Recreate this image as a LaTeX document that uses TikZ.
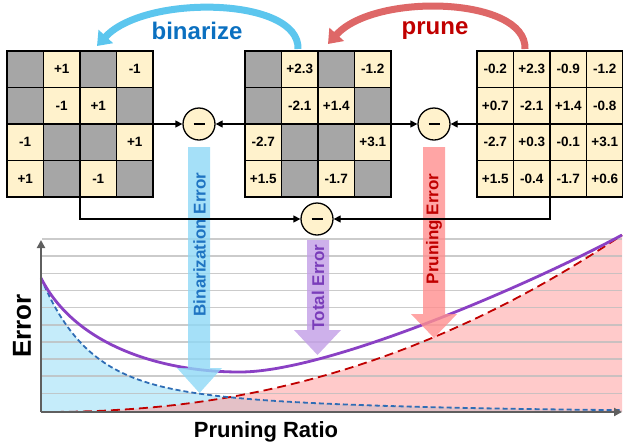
\documentclass[tikz,border=0pt]{standalone}
\usepackage{fontspec}
\setmainfont{Liberation Sans}
\usetikzlibrary{arrows.meta,calc}
\definecolor{cellg}{HTML}{A6A6A6}
\definecolor{cellc}{HTML}{FFF2CC}
\definecolor{binc}{HTML}{5CC6EE}
\definecolor{prunc}{HTML}{DE6767}
\definecolor{bintxt}{HTML}{0B70C0}
\definecolor{darkred}{HTML}{C00000}
\definecolor{purp}{HTML}{8A40C4}
\definecolor{bluedash}{HTML}{2F6DB5}
\definecolor{fillblue}{HTML}{C5ECFA}
\definecolor{fillpink}{HTML}{FF9E9E}
\definecolor{shaftblue}{HTML}{8FD8F6}
\definecolor{shaftred}{HTML}{FF8F8F}
\definecolor{shaftpurp}{HTML}{C29DE6}
\definecolor{txtblue}{HTML}{1F74C2}
\definecolor{txtpurp}{HTML}{7A3DBA}
\definecolor{gridc}{HTML}{BEBEBE}
\definecolor{axisc}{HTML}{5F5F5F}
\def\gtok{g}
\newcommand{\drawmat}[3]{%
  \foreach \v [count=\k from 0] in {#3} {%
    \pgfmathtruncatemacro\ci{mod(\k,4)}%
    \pgfmathtruncatemacro\rj{div(\k,4)}%
    \edef\tmp{\v}%
    \ifx\tmp\gtok
      \node[gcell] (#1-\k) at ({#2-54.75+36.5*\ci},{124-54.75+36.5*\rj}) {};
    \else
      \node[ccell] (#1-\k) at ({#2-54.75+36.5*\ci},{124-54.75+36.5*\rj}) {\v};
    \fi
  }
  \node[mbox] (#1) at (#2,124) {};
}
\tikzset{
  gcell/.style={draw, fill=cellg, minimum size=36.5pt, inner sep=0pt, line width=1.1pt},
  ccell/.style={draw, fill=cellc, minimum size=36.5pt, inner sep=0pt, line width=1.1pt,
    font=\fontsize{13.5}{14}\selectfont\bfseries},
  mbox/.style={draw, line width=1.5pt, minimum size=146pt, inner sep=0pt, outer sep=0pt},
  minus/.style={circle, draw, fill=cellc, minimum size=32pt, inner sep=0pt, line width=1.3pt},
  conn/.style={line width=1.3pt, -{Triangle[length=7pt,width=7pt]}},
  vtext/.style={rotate=90, font=\fontsize{17}{17}\selectfont\bfseries},
  gridl/.style={gridc, line width=1.6pt, opacity=0.8},
  toparc/.style={line width=7pt, -{Triangle[length=13pt,width=19pt]}},
}
\begin{document}
\begin{tikzpicture}[x=1pt,y=-1pt]
\useasboundingbox (0,0) rectangle (623,445);

% ---------- chart fills ----------
\fill[fillblue] (41,412) -- plot[domain=0:581, samples=120] ({41+\x},{412-100*exp(-\x/45)-34*exp(-\x/200)}) -- (622,412) -- cycle;
\fill[fillpink, fill opacity=0.55] (41,412) -- plot[domain=1:581, samples=120] ({41+\x},{412-177*(\x/581)^2.2}) -- (622,412) -- cycle;

% ---------- grid ----------
\foreach \g in {0,...,9} {
  \draw[gridl] (42,{239+17.15*\g}) -- (622,{239+17.15*\g});
}

% ---------- curves ----------
\draw[darkred, line width=1.8pt, dash pattern=on 9pt off 5pt] (41,412) -- plot[domain=1:581, samples=120] ({41+\x},{412-177*(\x/581)^2.2});
\draw[bluedash, line width=1.8pt, dash pattern=on 5pt off 3pt] plot[domain=0:581, samples=120] ({41+\x},{412-100*exp(-\x/45)-34*exp(-\x/200)});
\draw[purp, line width=2.8pt] (41,278) .. controls (75,345) and (160,372) .. (240,372) .. controls (330,372) and (535,282) .. (622,235);

% ---------- axes ----------
\coordinate (O) at (41,412);
\coordinate (Xend) at (622,412);
\coordinate (Yend) at (41,240);
\draw[axisc, line width=2pt, -{Triangle[length=8pt,width=8pt]}] (O) -- (Xend);
\draw[axisc, line width=2pt, -{Triangle[length=8pt,width=8pt]}] (O) -- (Yend);
\node[font=\fontsize{22}{22}\selectfont\bfseries] (xl) at (266,432) {Pruning Ratio};
\node[rotate=90, font=\fontsize{26}{26}\selectfont\bfseries] (yl) at (22,326) {Error};

% ---------- vertical arrows ----------
\fill[shaftblue, fill opacity=0.8] (188,147) -- (210,147) -- (210,368) -- (222,368) -- (199.5,393) -- (177,368) -- (188,368) -- cycle;
\fill[shaftpurp, fill opacity=0.8] (307,240) -- (329,240) -- (329,330) -- (341,330) -- (317.5,355) -- (294,330) -- (307,330) -- cycle;
\fill[shaftred, fill opacity=0.8] (423,147) -- (445,147) -- (445,314) -- (457,314) -- (434,338) -- (411,314) -- (423,314) -- cycle;
\node[vtext, txtblue] (tb) at (199.5,244.5) {Binarization Error};
\node[vtext, txtpurp] (tt) at (318,287.5) {Total Error};
\node[vtext, darkred] (tp) at (434,229) {Pruning Error};

% ---------- matrices ----------
\drawmat{L}{80}{g,+1,g,-1,g,-1,+1,g,-1,g,g,+1,+1,g,-1,g}
\drawmat{M}{318}{g,+2.3,g,-1.2,g,-2.1,+1.4,g,-2.7,g,g,+3.1,+1.5,g,-1.7,g}
\drawmat{R}{550}{-0.2,+2.3,-0.9,-1.2,+0.7,-2.1,+1.4,-0.8,-2.7,+0.3,-0.1,+3.1,+1.5,-0.4,-1.7,+0.6}

% ---------- minus circles ----------
\node[minus] (c1) at (199,124) {};
\node[minus] (c2) at (434,124) {};
\node[minus] (c3) at (317,219) {};
\foreach \c in {c1,c2,c3} {
  \draw[line width=2.2pt] ($(\c.center)+(-5.5,0)$) -- ($(\c.center)+(5.5,0)$);
}

% ---------- connectors ----------
\draw[conn] (L.east) -- (c1.west);
\draw[conn] (M.west) -- (c1.east);
\draw[conn] (M.east) -- (c2.west);
\draw[conn] (R.west) -- (c2.east);
\draw[conn] (L.south) |- (c3.west);
\draw[conn] (R.south) |- (c3.east);

% ---------- top arcs ----------
\coordinate (bt) at (298,49);
\coordinate (bh) at (97,46);
\coordinate (pt) at (525,49);
\coordinate (ph) at (328,44);
\draw[toparc, binc] (bt) .. controls (300,-3) and (145,-6) .. (bh);
\draw[toparc, prunc] (pt) .. controls (527,-3) and (375,-8) .. (ph);
\node[font=\fontsize{24}{24}\selectfont\bfseries, text=bintxt] (bz) at (197,31) {binarize};
\node[font=\fontsize{24}{24}\selectfont\bfseries, text=darkred] (pr) at (435,31) {prune};
\end{tikzpicture}
\end{document}
